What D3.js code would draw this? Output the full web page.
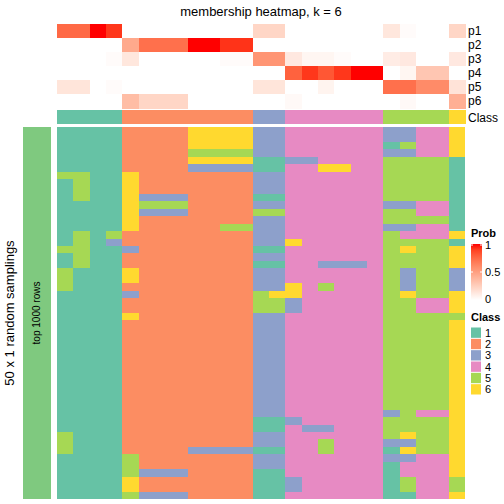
<!DOCTYPE html>
<html><head><meta charset="utf-8">
<script src="https://cdn.jsdelivr.net/npm/d3@7"></script>
<style>body{margin:0;background:#fff}svg{display:block;font-family:"Liberation Sans",Arial,sans-serif}</style>
</head><body>
<script>
// ---- data ----
const columns = d3.range(25).map(i => "s" + (i + 1));
const classOfColumn = [1,1,1,1, 2,2,2,2,2,2,2,2, 3,3, 4,4,4,4,4,4, 5,5,5,5, 6];
const probRows = ["p1","p2","p3","p4","p5","p6"];
const p1 = [0.75,0.75,1,0.92, 0,0,0,0,0,0,0,0, 0.22,0.22, 0,0,0,0,0,0, 0.13,0.02,0,0, 0.22];
const p2 = [0,0,0,0, 0.45,0.72,0.72,0.72,1,1,0.93,0.93, 0,0, 0,0,0,0,0,0, 0,0,0,0, 0];
const p3 = [0,0,0,0.02, 0.13,0,0,0,0,0,0.02,0.02, 0.55,0.55, 0.12,0.05,0.05,0.02,0,0, 0.1,0.12,0,0, 0.12];
const p4 = [0,0,0,0, 0,0,0,0,0,0,0,0, 0,0, 0.78,0.92,0.82,0.92,1,1, 0,0.05,0.3,0.3, 0];
const p5 = [0.14,0.14,0,0.02, 0,0,0,0,0,0,0,0, 0.14,0.14, 0,0,0.06,0,0,0, 0.72,0.72,0.6,0.6, 0.15];
const p6 = [0,0,0,0, 0.35,0.22,0.22,0.22,0,0,0,0, 0,0, 0.03,0,0,0,0,0, 0,0.03,0,0, 0.42];
const probValues = [p1,p2,p3,p4,p5,p6];
const classLabels = ["1","2","3","4","5","6"];
// 50 random samplings x 25 columns: class assigned in each sampling
const samplingRows = [
"1111222266663344444433446",
"1111222266663344444433446",
"1111222266663344444415446",
"1111222255553344444433446",
"1111222266661133444455551",
"1111222233331144664455551",
"5511622222223344444455551",
"1511622222223344444455551",
"1511622222223344444455551",
"1511633322221144444455551",
"1111655522223344444433441",
"1111633322225544444455441",
"1111622222223344444455551",
"1111622222553344444433441",
"1515222222223344444454446",
"1513222222223364444455551",
"5511322222221144444456556",
"1511222222223344444455556",
"1511222222221144333455556",
"5111622222223344444453553",
"5111622222223344444453553",
"5111222222223364544453553",
"1111322222225664444456556",
"1111222222225534444455446",
"1111222222225534444455446",
"1111622222223344444455555",
"1111222222223344444455556",
"1111222222223344444455556",
"1111222222223344444455556",
"1111222222223344444455556",
"1111222222223344444455556",
"1111222222223344444455556",
"1111222222223344444455556",
"1111222222223344444455556",
"1111222222223344444455556",
"1111222222223344444455556",
"1111222222223344444455556",
"1111222222223344444455556",
"1111222222223344444435446",
"1111222222221134444455556",
"1111222222221143344455556",
"5111222222223344444456556",
"5111222222223344544433556",
"5111222233331144544416556",
"1111522222223344444433446",
"1111522222223344444414446",
"1111533322221144444414446",
"1111622222221134444415445",
"1111622222221134444415445",
"1111533322221144444411446"
];
const nSamplings = samplingRows.length;

// ---- layout ----
const W = 504, H = 504;
const svg = d3.select("body").append("svg").attr("width", W).attr("height", H);
const classColor = d3.scaleOrdinal().domain(classLabels)
  .range(["#66C2A5","#FC8D62","#8DA0CB","#E78AC3","#A6D854","#FFD92F"]);
const probColor = d3.scaleLinear().domain([0,1]).range(["#ffffff","#ff0000"]).interpolate(d3.interpolateLab);

const x = d3.scaleBand().domain(columns).range([57, 465]);
const yProb = d3.scaleBand().domain(probRows).range([24, 108]);
const yMain = d3.scaleBand().domain(d3.range(nSamplings)).range([127, 499]);

// title
svg.append("text").attr("x", 261).attr("y", 16).attr("text-anchor","middle")
  .attr("font-size", 13).text("membership heatmap, k = 6");

// prob heatmap
const gp = svg.append("g").attr("shape-rendering", "crispEdges");
probRows.forEach((r, i) => {
  gp.selectAll(null).data(probValues[i]).enter().append("rect")
    .attr("x", (d, j) => x(columns[j])).attr("y", yProb(r))
    .attr("width", x.bandwidth() + 1).attr("height", yProb.bandwidth() + 0.5)
    .attr("fill", d => probColor(d));
  svg.append("text").attr("x", 468).attr("y", yProb(r) + yProb.bandwidth()/2 + 4)
    .attr("font-size", 12).text(r);
});
// class annotation
svg.append("g").attr("shape-rendering", "crispEdges").selectAll("rect").data(classOfColumn).enter().append("rect")
  .attr("x", (d, j) => x(columns[j])).attr("y", 110)
  .attr("width", x.bandwidth() + 1).attr("height", 14)
  .attr("fill", d => classColor(String(d)));
svg.append("text").attr("x", 468).attr("y", 121.5).attr("font-size", 12).text("Class");

// main heatmap
const cells = [];
samplingRows.forEach((row, i) => row.split("").forEach((c, j) => cells.push({i, j, c})));
svg.append("g").attr("shape-rendering", "crispEdges").selectAll("rect").data(cells).enter().append("rect")
  .attr("x", d => x(columns[d.j])).attr("y", d => yMain(d.i))
  .attr("width", d => d.j === columns.length - 1 ? x.bandwidth() : x.bandwidth() + 1)
  .attr("height", d => d.i === nSamplings - 1 ? yMain.bandwidth() : yMain.bandwidth() + 1)
  .attr("fill", d => classColor(d.c));

// left bar
svg.append("rect").attr("x", 23).attr("y", 127).attr("width", 28).attr("height", 372).attr("fill", "#7FC97F");
svg.append("text").attr("transform", "translate(40,313) rotate(-90)").attr("text-anchor","middle")
  .attr("font-size", 10).text("top 1000 rows");
svg.append("text").attr("transform", "translate(14,313) rotate(-90)").attr("text-anchor","middle")
  .attr("font-size", 13).text("50 x 1 random samplings");

// Prob legend
svg.append("text").attr("x", 471).attr("y", 237).attr("font-size", 11).attr("font-weight","bold").text("Prob");
const defs = svg.append("defs");
const grad = defs.append("linearGradient").attr("id","pg").attr("x1",0).attr("y1",1).attr("x2",0).attr("y2",0);
d3.range(0, 1.001, 0.1).forEach(t => grad.append("stop").attr("offset", t).attr("stop-color", probColor(t)));
const yLeg = d3.scaleLinear().domain([0,1]).range([299, 245]);
svg.append("rect").attr("x", 471).attr("y", 244).attr("width", 11).attr("height", 56).attr("fill","url(#pg)");
[1, 0.5].forEach(v => {
  svg.append("line").attr("x1",471).attr("x2",473).attr("y1",yLeg(v)).attr("y2",yLeg(v)).attr("stroke","#fff");
  svg.append("line").attr("x1",480).attr("x2",482).attr("y1",yLeg(v)).attr("y2",yLeg(v)).attr("stroke","#fff");
});
[1, 0.5, 0].forEach(v => svg.append("text").attr("x", 485).attr("y", yLeg(v) + 4).attr("font-size", 11).text(v));

// Class legend
svg.append("text").attr("x", 471).attr("y", 321).attr("font-size", 11).attr("font-weight","bold").text("Class");
const yCls = d3.scaleBand().domain(classLabels).range([327, 395]);
classLabels.forEach(c => {
  svg.append("rect").attr("x", 471).attr("y", yCls(c) + 0.5).attr("width", 10).attr("height", yCls.bandwidth() - 1)
    .attr("fill", classColor(c));
  svg.append("text").attr("x", 485).attr("y", yCls(c) + yCls.bandwidth()/2 + 4).attr("font-size", 11).text(c);
});
</script>
</body></html>
